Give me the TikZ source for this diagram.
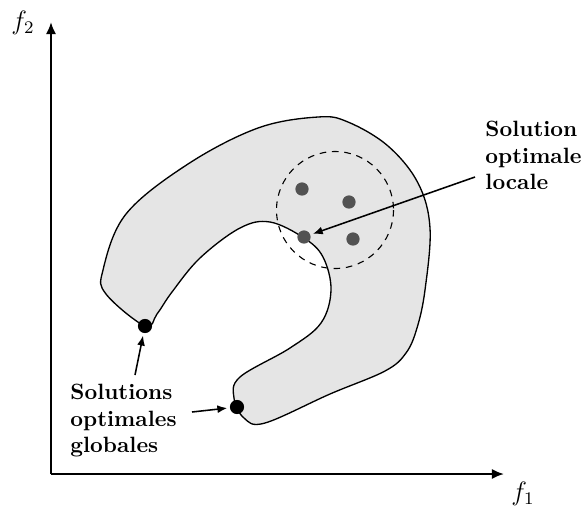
\documentclass[tikz,border=0pt]{standalone}
\usetikzlibrary{arrows.meta}
\begin{document}
\begin{tikzpicture}[x=0.452pt,y=-0.452pt,
  region/.style={draw=black, line width=0.6pt, fill=gray!20},
  axis/.style={line width=0.9pt, -{Latex[length=5.5pt,width=4.6pt]}},
  gpt/.style={circle, fill=black, inner sep=0pt, minimum size=6.4pt},
  lpt/.style={circle, fill=black!68, inner sep=0pt, minimum size=6pt},
  lbl/.style={font=\bfseries, align=left, inner sep=0pt, anchor=north west},
  ptr/.style={line width=0.7pt, -{Latex[length=4.5pt,width=3.6pt]}, shorten >=1pt},
  zone/.style={dashed, line width=0.5pt, dash pattern=on 3pt off 2.6pt}]
\useasboundingbox (0,0) rectangle (584,509);

% feasible region
\draw[region] plot[smooth cycle, tension=0.6] coordinates {
  (145,326) (106,294) (103,270) (126,214) (188,164) (258,128) (318,117)
  (348,122) (388,146) (418,183) (430,228) (425,290) (417,328) (406,353)
  (385,371) (330,394) (265,423) (244,418) (234,398) (240,377) (290,348)
  (321,323) (331,290) (323,257) (304,238) (270,222) (240,228) (200,258)
  (172,292) (157,314)};

% neighbourhood
\draw[zone] (335,210) circle[radius=58.5];

% points
\node[lpt] (l1) at (302,189) {};
\node[lpt] (l2) at (349,202) {};
\node[lpt] (l3) at (304,237) {};
\node[lpt] (l4) at (353,239) {};
\node[gpt] (g1) at (145,326) {};
\node[gpt] (g2) at (237,407) {};

% axes
\coordinate (O) at (51,474);
\coordinate (ytip) at (51,22);
\coordinate (xtip) at (504,474);
\draw[axis] (O) -- (ytip);
\draw[axis] (O) -- (xtip);
\node[font=\large] (fy) at (23,23) {$f_2$};
\node[font=\large] (fx) at (523,494) {$f_1$};

% labels
\node[lbl] (loc) at (485,121) {Solution\\optimale\\locale};
\node[lbl] (glob) at (70,384) {Solutions\\optimales\\globales};

\coordinate (a1) at (475,177);
\coordinate (a2) at (135,375);
\coordinate (a3) at (192,412);
\draw[ptr] (a1) -- (l3);
\draw[ptr] (a2) -- (g1);
\draw[ptr] (a3) -- (g2);
\end{tikzpicture}
\end{document}
